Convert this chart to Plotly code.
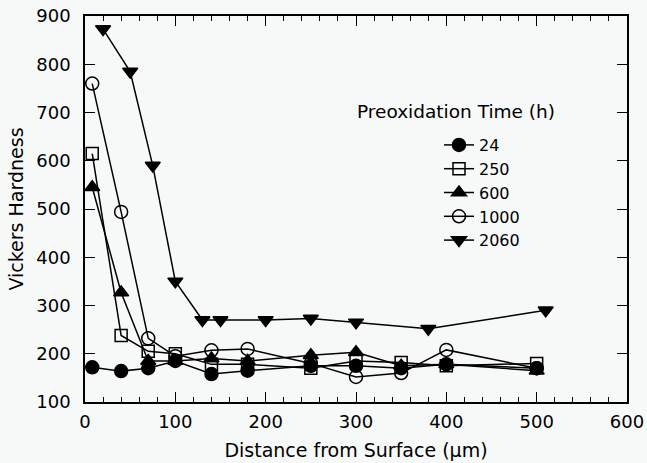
import plotly.graph_objects as go

# Preoxidation time series: distance from surface (um) and Vickers hardness
labels = ["24", "250", "600", "1000", "2060"]

x_24 = [8, 40, 70, 100, 140, 180, 250, 300, 350, 400, 500]
y_24 = [172, 164, 170, 185, 158, 165, 175, 175, 170, 178, 170]

x_250 = [8, 40, 70, 100, 140, 180, 250, 300, 350, 400, 500]
y_250 = [615, 238, 205, 200, 178, 178, 170, 185, 182, 175, 180]

x_600 = [8, 40, 70, 100, 140, 180, 250, 300, 350, 400, 500]
y_600 = [545, 327, 185, 185, 190, 185, 197, 203, 175, 178, 165]

x_1000 = [8, 40, 70, 100, 140, 180, 250, 300, 350, 400, 500]
y_1000 = [760, 494, 232, 195, 207, 210, 180, 152, 160, 208, 170]

x_2060 = [20, 50, 75, 100, 130, 150, 200, 250, 300, 380, 510]
y_2060 = [873, 785, 590, 350, 270, 270, 270, 273, 265, 252, 290]

xs = [x_24, x_250, x_600, x_1000, x_2060]
ys = [y_24, y_250, y_600, y_1000, y_2060]
symbols = ["circle", "square-open", "triangle-up", "circle-open", "triangle-down"]
sizes = [13, 12, 13, 13, 13]

FONT = "DejaVu Sans"
BG = "#f7f8f8"
fig = go.Figure()
for lab, x, y, sym, sz in zip(labels, xs, ys, symbols, sizes):
    fig.add_trace(go.Scatter(
        x=x, y=y, name=lab, mode="lines+markers",
        line=dict(color="black", width=1.5),
        marker=dict(symbol=sym, size=sz, color="black",
                    line=dict(color="black", width=1.5)),
    ))

axis_common = dict(
    showline=True, linecolor="black", linewidth=1.5, mirror="ticks",
    ticks="inside", ticklen=10, tickwidth=1.3, tickcolor="black",
    showgrid=False, zeroline=False, automargin=False,
    ticklabeloverflow="allow",
    tickfont=dict(family=FONT, size=18, color="black"),
)

fig.update_xaxes(
    range=[0, 600], dtick=100, tick0=0,
    minor=dict(dtick=20, ticks="inside", ticklen=5, tickwidth=1.2, tickcolor="black"),
    title=dict(text="Distance from Surface (µm)", font=dict(family=FONT, size=19, color="black"), standoff=12),
    ticklabelstandoff=3,
    **axis_common,
)
fig.update_yaxes(
    range=[100, 900], dtick=100, tick0=100,
    title=dict(text="Vickers Hardness", font=dict(family=FONT, size=19, color="black"), standoff=8),
    ticklabelstandoff=9,
    **axis_common,
)

fig.add_annotation(
    text="Preoxidation Time (h)", xref="paper", yref="paper",
    x=(355 - 85) / 542, y=(402 - 111) / 386, xanchor="left", yanchor="middle",
    showarrow=False, font=dict(family=FONT, size=18.5, color="black"),
)

fig.update_layout(
    width=647, height=463,
    margin=dict(l=85, r=20, t=16, b=61, autoexpand=False),
    paper_bgcolor=BG, plot_bgcolor=BG,
    showlegend=True,
    legend=dict(
        x=(439 - 85) / 542, y=(402 - 128) / 386, xanchor="left", yanchor="top",
        bgcolor="rgba(0,0,0,0)", font=dict(family=FONT, size=16, color="black"),
        tracegroupgap=0,
    ),
)

fig.write_html(
    "out.html",
    config={"displayModeBar": False},
    post_script=(
        "document.body.style.margin='0px';"
        f"document.body.style.background='{BG}';"
        "document.documentElement.style.overflow='hidden';"
    ),
)
